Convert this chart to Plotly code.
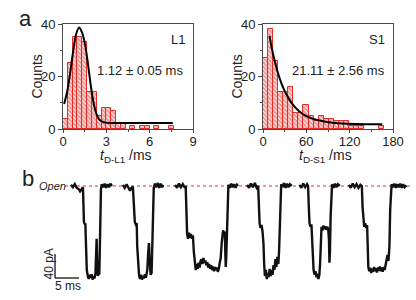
import plotly.graph_objects as go

W, H = 416, 300

# ---------------- panel a : dwell-time histograms ----------------
l1_bin_width = 1 / 3  # ms
l1_counts = [4, 25, 35, 35, 33, 14, 14, 5, 8, 8, 7, 2, 2, 0, 1, 0, 1, 1, 0, 1, 0, 0, 1]
l1_fit_ms = [0.08, 0.3, 0.5, 0.7, 0.9, 1.12, 1.3, 1.5, 1.7, 1.9, 2.1, 2.3, 2.5, 2.8, 3.2, 5.0, 7.6]
l1_fit_counts = [9.5, 14.5, 21.5, 29.5, 36, 38.7, 37, 33, 26, 17.5, 10.5, 6, 3.7, 2.6, 2.3, 2.3, 2.3]
l1_xticks = [0, 3, 6, 9]
l1_xminor = [1.5, 4.5, 7.5]

s1_bin_width = 7  # ms
s1_counts = [27, 38, 26, 14, 14, 16, 6, 6, 9, 5, 3, 5, 4, 4, 3, 3, 3, 1, 1, 1, 0, 0, 0, 1]
s1_fit_ms = [9, 12, 15, 20, 25, 30, 40, 50, 60, 75, 90, 110, 130, 150, 165]
s1_fit_counts = [35.5, 31.0, 27.3, 22.0, 17.8, 14.5, 9.8, 6.8, 4.9, 3.4, 2.6, 2.1, 1.9, 1.8, 1.8]
s1_xticks = [0, 60, 120, 180]
s1_xminor = [30, 90, 150]

count_ticks = [0, 20, 40]
count_minor = [10, 30]

# ---------------- panel b : current trace (ms, pA relative to open) ----------------
ev1_ms = [0.2, 0.6, 1.0, 1.4, 1.8, 2.1, 2.4, 2.6, 2.7, 2.8, 2.9, 3.1, 3.2, 3.3, 3.5, 3.7, 3.9, 4.1, 4.3, 4.5,
          4.7, 4.9, 5.1, 5.3, 5.45, 5.55, 5.65, 5.8, 6.0, 6.1, 6.2, 6.3, 6.45, 6.6, 6.9, 7.2, 7.5, 7.8, 8.1,
          8.4, 8.75]
ev1_pA = [2, -2, 3, -3, -5, -9, -6, -3, -2, -30, -60, -64, -62, -90, -140, -150, -155, -148, -153, -147,
          -156, -150, -154, -146, -120, -88, -125, -150, -145, -148, -110, -40, -5, 3, -2, 4, -3, 3, -2,
          4, 0]

ev2_ms = [11.0, 11.4, 11.8, 12.2, 12.5, 12.8, 13.1, 13.3, 13.5, 13.7, 13.9, 14.0, 14.2, 14.4, 14.6, 14.8,
          15.0, 15.2, 15.4, 15.6, 15.8, 16.1, 16.3, 16.45, 16.6, 16.8, 17.0, 17.15, 17.3, 17.45, 17.7,
          18.0, 18.3, 18.6, 18.9, 19.2, 19.4]
ev2_pA = [2, -3, 3, -4, -8, -3, -1, -30, -60, -64, -62, -100, -140, -150, -155, -148,
          -156, -150, -154, -147, -153, -140, -110, -95, -125, -148, -145, -100, -30, -3, 4,
          -2, 5, -3, 4, -2, 2]

ev3_ms = [21.9, 22.3, 22.7, 23.1, 23.5, 23.9, 24.1, 24.25, 24.4, 24.6, 24.8, 25.0, 25.2, 25.4, 25.6,
          25.8, 26.0, 26.2, 26.4, 26.6, 26.8, 27.0, 27.2, 27.4, 27.6, 27.8, 28.0, 28.2, 28.4, 28.6, 28.8,
          29.0, 29.2, 29.4, 29.6, 29.8, 30.0, 30.2, 30.4, 30.6, 30.8, 31.0, 31.2, 31.4, 31.6, 31.75,
          31.9, 32.1, 32.25, 32.35, 32.45, 32.55, 32.7, 32.85, 33.0, 33.3, 33.6, 33.9, 34.2, 34.5,
          34.8, 35.0]
ev3_pA = [2, -3, 4, -2, 3, -3, 0, -40, -80, -88, -78, -86, -80, -88, -82,
          -110, -132, -140, -130, -138, -128, -136, -125, -122, -130, -120, -128, -124, -132, -127, -136,
          -130, -138, -132, -140, -134, -142, -135, -140, -136, -143, -138, -128, -120, -95, -78,
          -74, -80, -76, -110, -135, -120, -60, -10, 2, -3, 4, -2, 3, -3,
          2, 0]

ev4_ms = [36.9, 37.3, 37.7, 38.1, 38.5, 38.9, 39.2, 39.35, 39.5, 39.7, 39.9, 40.1, 40.3, 40.45, 40.6,
          40.8, 41.0, 41.2, 41.4, 41.6, 41.8, 42.0, 42.2, 42.4, 42.6, 42.8, 43.0, 43.2, 43.4, 43.55,
          43.7, 43.85, 44.0, 44.3, 44.6, 44.9, 45.2, 45.5, 45.8, 46.2]
ev4_pA = [2, -3, 4, -2, 5, -3, 0, -30, -62, -70, -65, -75, -95, -130, -150,
          -140, -155, -145, -152, -138, -150, -140, -148, -132, -140, -122, -135, -118, -130, -110,
          -60, -10, 3, -2, 5, -3, 4, -2, 3, 0]

ev5_ms = [47.8, 48.2, 48.6, 49.0, 49.4, 49.6, 49.75, 49.9, 50.1, 50.3, 50.45, 50.6, 50.75, 50.95, 51.15,
          51.35, 51.55, 51.75, 51.95, 52.1, 52.25, 52.4, 52.6, 52.8, 53.0, 53.2, 53.4, 53.6, 53.8,
          53.95, 54.05, 54.15, 54.3, 54.45, 54.6, 54.9, 55.2, 55.5, 55.8, 56.2]
ev5_pA = [2, -3, 4, -2, 3, 0, -35, -62, -68, -64, -90, -125, -140, -148, -142,
          -152, -146, -155, -148, -130, -90, -68, -74, -66, -72, -67, -73, -68, -72,
          -90, -128, -110, -50, -5, 3, -3, 4, -2, 3, 0]

ev6_ms = [58.1, 58.5, 58.9, 59.3, 59.7, 60.1, 60.5, 60.8, 60.95, 61.1, 61.3, 61.5, 61.7, 61.9, 62.0,
          62.15, 62.35, 62.55, 62.75, 62.95, 63.15, 63.35, 63.55, 63.75, 63.95, 64.15, 64.35, 64.55,
          64.75, 64.95, 65.15, 65.35, 65.55, 65.75, 65.95, 66.15, 66.35, 66.55, 66.7, 66.85, 67.0,
          67.3, 67.6, 67.9, 68.2, 68.5, 68.8, 69.1, 69.4, 69.7, 70.1]
ev6_pA = [2, -3, 4, -2, 3, -3, 2, 0, -35, -60, -68, -62, -70, -65, -100,
          -135, -142, -136, -145, -138, -143, -135, -142, -137, -144, -136, -141, -134,
          -142, -136, -143, -135, -140, -132, -128, -115, -125, -100, -40, -5, 3,
          -2, 4, -3, 3, -2, 4, -3, 3, -2, 1]

scale_pA = 40
scale_ms = 5
open_level_pA = 0

# ---------------- helpers (layout only) ----------------
def px(x):
    return x / W

def py(y):
    return 1 - y / H

RED = "#e52b26"
AX = "#4a4a4a"
TXT = "#222222"
FONT = "Liberation Sans, Arial, sans-serif"

fig = go.Figure()


def add_hist(counts, width, xa, ya):
    xs = [(i + 0.5) * width for i, c in enumerate(counts) if c > 0]
    ys = [c for c in counts if c > 0]
    fig.add_trace(go.Bar(
        x=xs, y=ys, width=width, xaxis=xa, yaxis=ya,
        marker=dict(color="white",
                    line=dict(color=RED, width=1),
                    pattern=dict(shape="\\", fgcolor=RED, bgcolor="white", size=3, solidity=0.72)),
        showlegend=False, hoverinfo="skip"))


add_hist(l1_counts, l1_bin_width, "x", "y")
fig.add_trace(go.Scatter(x=l1_fit_ms, y=l1_fit_counts, mode="lines", xaxis="x", yaxis="y",
                         line=dict(color="black", width=2, shape="spline", smoothing=0.6),
                         showlegend=False, hoverinfo="skip"))
add_hist(s1_counts, s1_bin_width, "x2", "y2")
fig.add_trace(go.Scatter(x=s1_fit_ms, y=s1_fit_counts, mode="lines", xaxis="x2", yaxis="y2",
                         line=dict(color="black", width=2, shape="spline", smoothing=0.6),
                         showlegend=False, hoverinfo="skip"))

# trace segments
seg_t, seg_i = [], []
for t_list, i_list in [(ev1_ms, ev1_pA), (ev2_ms, ev2_pA), (ev3_ms, ev3_pA),
                       (ev4_ms, ev4_pA), (ev5_ms, ev5_pA), (ev6_ms, ev6_pA)]:
    seg_t += t_list + [None]
    seg_i += i_list + [None]
fig.add_trace(go.Scatter(x=seg_t, y=seg_i, mode="lines", xaxis="x3", yaxis="y3",
                         line=dict(color="#111111", width=2.4), connectgaps=False,
                         showlegend=False, hoverinfo="skip"))


def hist_x(dom, rng, ticks, minor):
    return dict(domain=dom, range=rng, tickvals=ticks, ticks="outside", ticklen=3, tickwidth=1,
                tickcolor=AX, showline=True, linecolor=AX, linewidth=1, mirror=True,
                showgrid=False, zeroline=False, tickfont=dict(size=13, color=TXT, family=FONT),
                ticklabelstandoff=-3,
                minor=dict(tickvals=minor, ticks="outside", ticklen=2, tickcolor=AX, showgrid=False),
                fixedrange=True)


def hist_y(anchor):
    return dict(domain=[py(129), py(24)], range=[0, 40], tickvals=count_ticks, ticks="outside",
                ticklen=4, tickwidth=1, tickcolor=AX, showline=True, linecolor=AX, linewidth=1,
                mirror=True, showgrid=False, zeroline=False, anchor=anchor,
                tickfont=dict(size=13, color=TXT, family=FONT),
                minor=dict(tickvals=count_minor, ticks="outside", ticklen=2, tickcolor=AX, showgrid=False),
                fixedrange=True)


# panel b axes: 4.8 px per ms, 0.6 px per pA, open level at y=186 px, t=0 at x=70 px
t_lo = (0 - 70) / 4.8
t_hi = (W - 70) / 4.8
i_hi = (186 - 170) / 0.6
i_lo = (186 - 300) / 0.6

fig.update_layout(
    width=W, height=H, margin=dict(l=0, r=0, t=0, b=0, autoexpand=False),
    paper_bgcolor="white", plot_bgcolor="rgba(0,0,0,0)",
    bargap=0, font=dict(family=FONT, color=TXT),
    xaxis=dict(**hist_x([px(63), px(193)], [0, 9], l1_xticks, l1_xminor), anchor="y"),
    yaxis=hist_y("x"),
    xaxis2=dict(**hist_x([px(263), px(393)], [0, 180], s1_xticks, s1_xminor), anchor="y2"),
    yaxis2=hist_y("x2"),
    xaxis3=dict(domain=[0, 1], range=[t_lo, t_hi], visible=False, anchor="y3", fixedrange=True),
    yaxis3=dict(domain=[0, py(170)], range=[i_lo, i_hi], visible=False, anchor="x3", fixedrange=True),
)

# open level (dotted red) and scale bar
fig.add_shape(type="line", xref="x3", yref="y3", x0=(65 - 70) / 4.8, x1=(410 - 70) / 4.8,
              y0=open_level_pA, y1=open_level_pA, line=dict(color=RED, width=1, dash="dot"), layer="below")
sb_t0 = (55 - 70) / 4.8
sb_i0 = (186 - 278) / 0.6
fig.add_shape(type="line", xref="x3", yref="y3", x0=sb_t0, x1=sb_t0, y0=sb_i0, y1=sb_i0 + scale_pA,
              line=dict(color="#111", width=1.3))
fig.add_shape(type="line", xref="x3", yref="y3", x0=sb_t0, x1=sb_t0 + scale_ms, y0=sb_i0, y1=sb_i0,
              line=dict(color="#111", width=1.3))


def ann(text, x, y, size=13, angle=0, xanchor="center", italic=False):
    fig.add_annotation(text=text, x=px(x), y=py(y), xref="paper", yref="paper", showarrow=False,
                       xanchor=xanchor, yanchor="middle", textangle=angle,
                       font=dict(size=size, color=TXT, family=FONT,
                                 style="italic" if italic else "normal"))


ann("a", 25, 18, size=22)
ann("b", 27.5, 178, size=22)
ann("Counts", 36.5, 77, size=14, angle=-90)
ann("Counts", 236.5, 77, size=14, angle=-90)
ann("<i>t</i><sub>D-L1</sub> /ms", 125.5, 156, size=14)
ann("<i>t</i><sub>D-S1</sub> /ms", 325.5, 156, size=14)
ann("L1", 178, 39, size=13)
ann("S1", 377, 39, size=13)
ann("1.12 ± 0.05 ms", 140, 70, size=13)
ann("21.11 ± 2.56 ms", 338, 70, size=13)
ann("Open", 52, 186, size=11, italic=True)
ann("40 pA", 48.5, 264, size=12, angle=-90)
ann("5 ms", 67.5, 286, size=12)

fig.write_html("out.html", config={"displayModeBar": False},
               post_script="document.body.style.margin='0';document.body.style.overflow='hidden';")
